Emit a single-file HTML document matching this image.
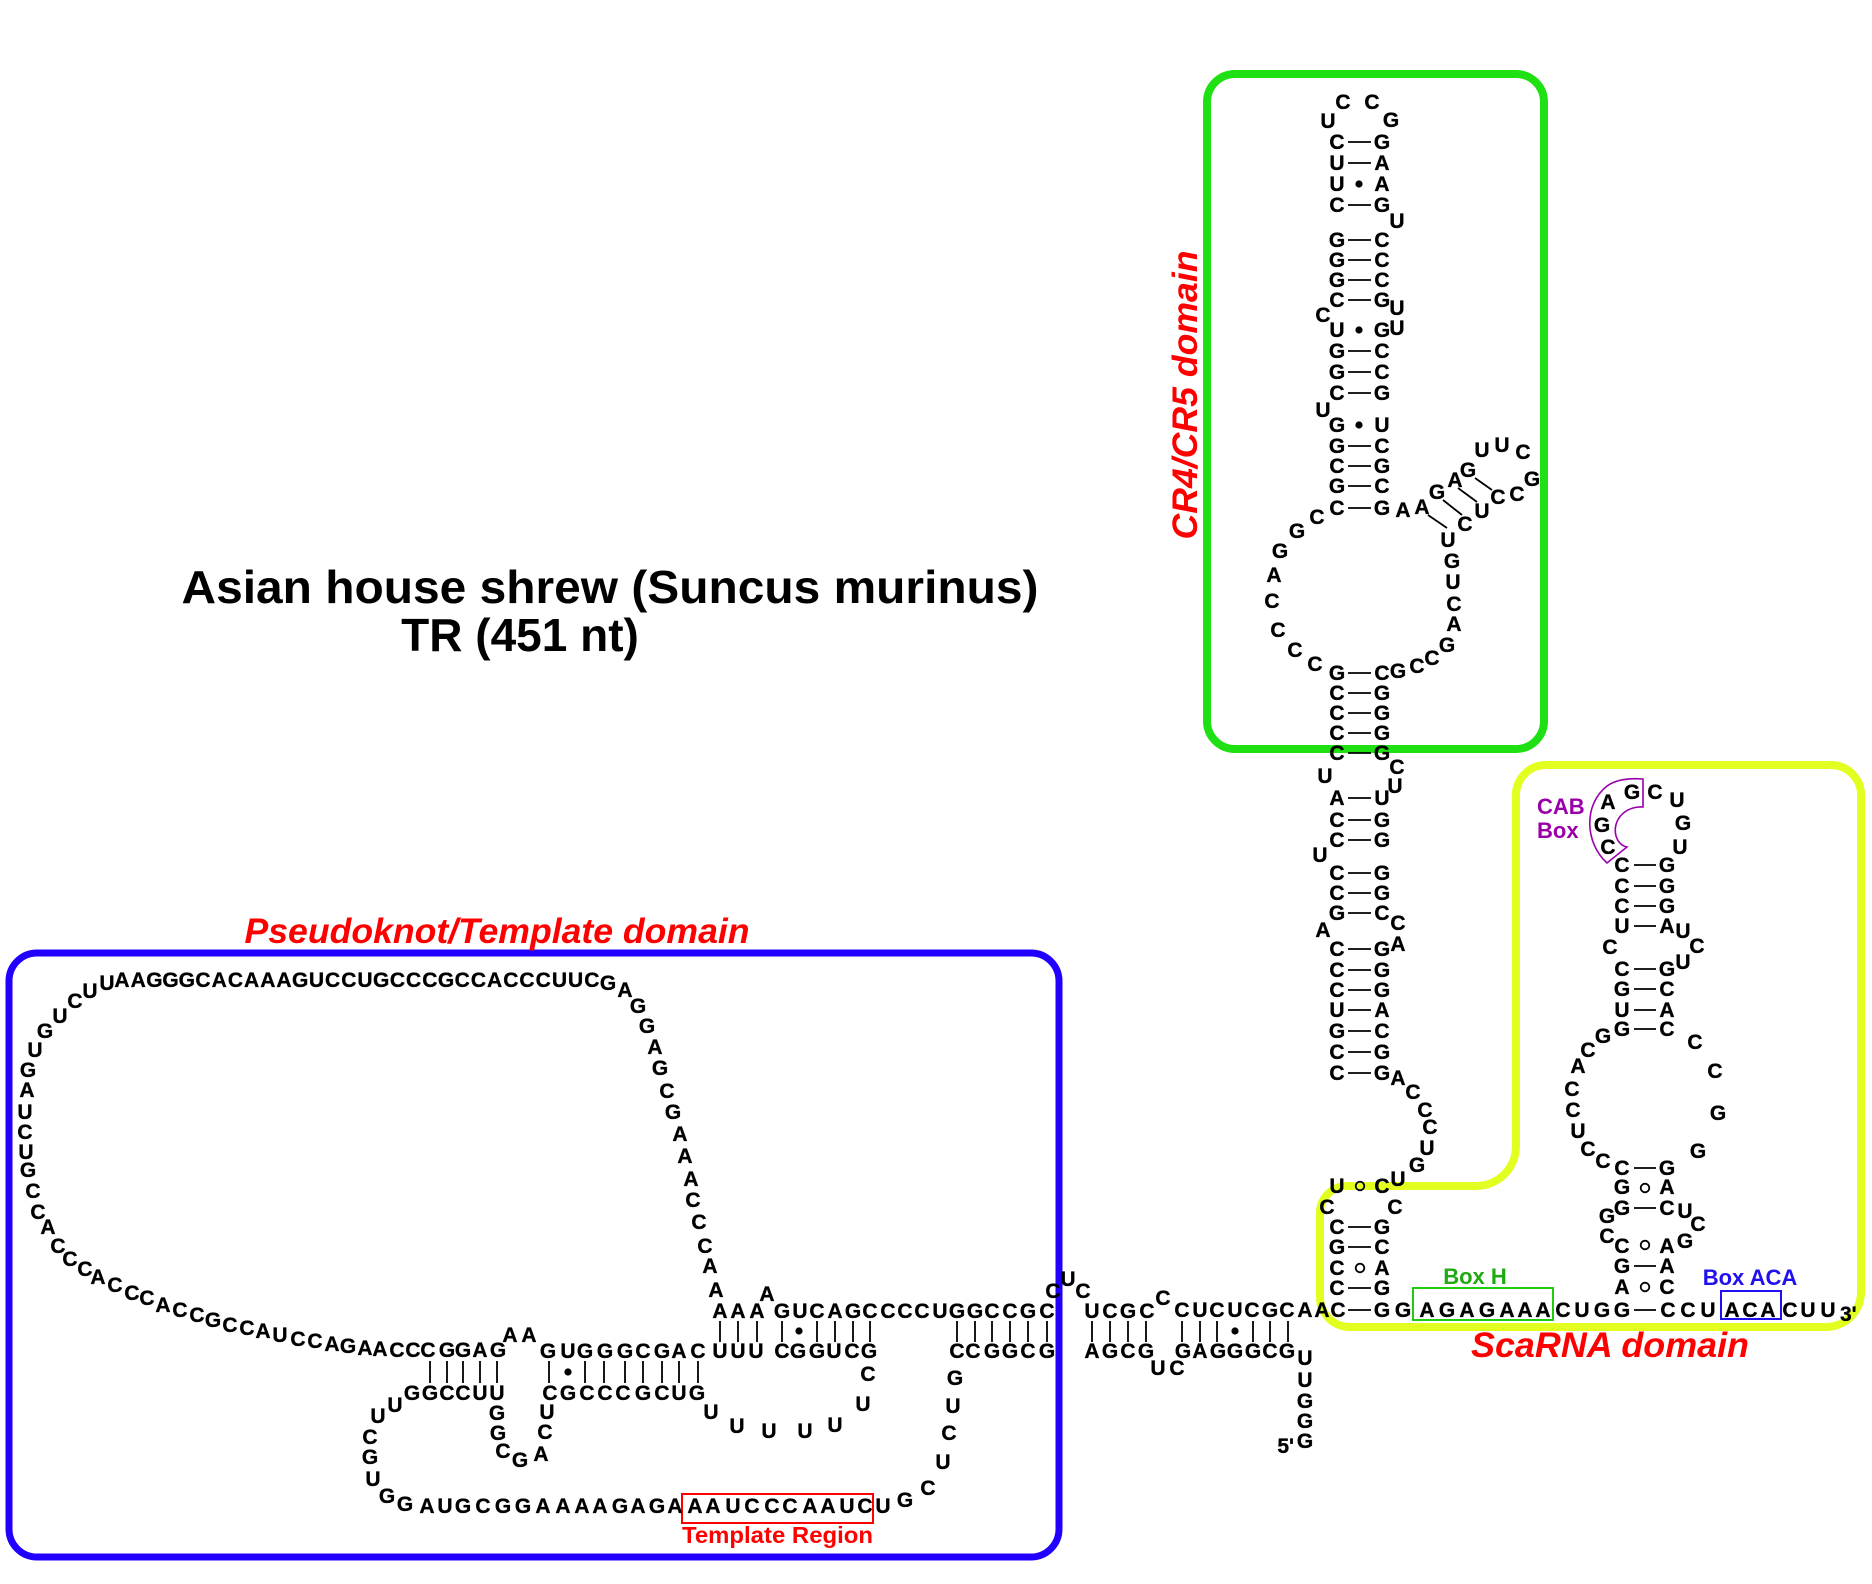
<!DOCTYPE html>
<html><head><meta charset="utf-8"><style>
html,body{margin:0;padding:0;background:#fff}
svg{display:block}
.n{font-family:"Liberation Sans",Arial,sans-serif;font-weight:bold;font-size:21px;text-anchor:middle;fill:#000;stroke:#000;stroke-width:0.35px}
.lab{font-family:"Liberation Sans",Arial,sans-serif;font-weight:bold}
</style></head><body>
<svg width="1872" height="1584" viewBox="0 0 1872 1584" xmlns="http://www.w3.org/2000/svg">
<!-- domain boxes -->
<rect x="1207" y="74" width="337" height="675" rx="28" ry="28" fill="none" stroke="#1fe013" stroke-width="8"/>
<rect x="9" y="953" width="1050" height="604" rx="28" ry="28" fill="none" stroke="#2200ff" stroke-width="7"/>
<path d="M1516,795 A30,30 0 0 1 1546,765 L1831,765 A30,30 0 0 1 1861,795 L1861,1292 A35,35 0 0 1 1826,1327 L1350,1327 A30,30 0 0 1 1320,1297 L1320,1213 A27,27 0 0 1 1347,1186 L1476,1186 A40,40 0 0 0 1516,1146 Z" fill="none" stroke="#e2ff1f" stroke-width="8"/>

<!-- titles -->
<text class="lab" x="610" y="603" text-anchor="middle" font-size="46" textLength="857" lengthAdjust="spacingAndGlyphs">Asian house shrew (Suncus murinus)</text>
<text class="lab" x="520" y="651" text-anchor="middle" font-size="46">TR (451 nt)</text>
<text class="lab" x="497" y="943" text-anchor="middle" font-size="35" font-style="italic" fill="#ff0000" textLength="505" lengthAdjust="spacingAndGlyphs">Pseudoknot/Template domain</text>
<text class="lab" transform="translate(1197,395) rotate(-90)" text-anchor="middle" font-size="35" font-style="italic" fill="#ff0000" textLength="289" lengthAdjust="spacingAndGlyphs">CR4/CR5 domain</text>
<text class="lab" x="1610" y="1357" text-anchor="middle" font-size="35" font-style="italic" fill="#ff0000" textLength="278" lengthAdjust="spacingAndGlyphs">ScaRNA domain</text>

<!-- small labels -->
<text class="lab" x="682" y="1543" font-size="23" fill="#ff0000" textLength="191" lengthAdjust="spacingAndGlyphs">Template Region</text>
<rect x="682" y="1494" width="191" height="29" fill="none" stroke="#ff0000" stroke-width="2"/>
<text class="lab" x="1475" y="1284" text-anchor="middle" font-size="22" fill="#1faa12">Box H</text>
<rect x="1413" y="1288" width="140" height="32" fill="none" stroke="#1fcc12" stroke-width="2"/>
<text class="lab" x="1750" y="1285" text-anchor="middle" font-size="22" fill="#2010f0">Box ACA</text>
<rect x="1721" y="1291" width="60" height="28" fill="none" stroke="#2010f0" stroke-width="2"/>
<text class="lab" x="1537" y="814" font-size="22" fill="#9900aa">CAB</text>
<text class="lab" x="1537" y="838" font-size="22" fill="#9900aa">Box</text>
<path d="M1607,863 C1585,843 1583,805 1607,786 C1617,779 1630,778 1643,779 L1643,807 C1625,806 1612,820 1616,836 C1618,842 1622,846 1627,847 Z" fill="none" stroke="#9900aa" stroke-width="1.6"/>

<!-- base pair lines -->
<g stroke="#000" stroke-width="1.8" fill="none">
<path d="M1348 142H1371M1348 163H1371M1348 205H1371M1348 240H1371M1348 260H1371M1348 280H1371M1348 300H1371M1348 351H1371M1348 372H1371M1348 393H1371M1348 446H1371M1348 466H1371M1348 486H1371M1348 508H1371M1348 673H1371M1348 693H1371M1348 713H1371M1348 733H1371M1348 753H1371M1348 798H1371M1348 820H1371M1348 840H1371M1348 873H1371M1348 893H1371M1348 913H1371M1348 949H1371M1348 970H1371M1348 990H1371M1348 1010H1371M1348 1031H1371M1348 1052H1371M1348 1073H1371M1348 1227H1371M1348 1247H1371M1348 1288H1371M1348 1310H1371"/>
<path d="M1634 865H1656M1634 886H1656M1634 906H1656M1634 926H1656M1634 969H1656M1634 989H1656M1634 1010H1656M1634 1029H1656M1634 1168H1656M1634 1208H1656M1634 1266H1656M1634 1310H1656"/>
<path d="M1428 515L1447 528M1443 500L1462 515M1458 488L1477 502M1475 478L1492 490"/>
<path d="M720 1321V1342M738 1321V1342M757 1321V1342M782 1321V1342M817 1321V1342M835 1321V1342M853 1321V1342M870 1321V1342M957 1321V1342M975 1321V1342M992 1321V1342M1010 1321V1342M1028 1321V1342M1047 1321V1342M1092 1321V1342M1110 1321V1342M1128 1321V1342M1146 1321V1342M1182 1321V1342M1200 1321V1342M1217 1321V1342M1253 1321V1342M1270 1321V1342M1288 1321V1342"/>
<path d="M430 1361V1383M447 1361V1383M463 1361V1383M480 1361V1383M497 1361V1383M549 1361V1383M585 1361V1383M604 1361V1383M625 1361V1383M643 1361V1383M662 1361V1383M679 1361V1383M698 1361V1383"/>
<circle cx="1360" cy="1186" r="4.3"/>
<circle cx="1360" cy="1268" r="4.3"/>
<circle cx="1645" cy="1188" r="4.3"/>
<circle cx="1645" cy="1245" r="4.3"/>
<circle cx="1645" cy="1287" r="4.3"/>
</g>
<g fill="#000">
<circle cx="1359" cy="184" r="3.6"/>
<circle cx="1359" cy="330" r="3.6"/>
<circle cx="1359" cy="425" r="3.6"/>
<circle cx="799" cy="1331" r="3.6"/>
<circle cx="1235" cy="1331" r="3.6"/>
<circle cx="568" cy="1372" r="3.6"/>
</g>

<!-- CR4/CR5 + P1 stem rows -->
<text class="n" x="1337 1382" y="149">CG</text>
<text class="n" x="1337 1382" y="170">UA</text>
<text class="n" x="1337 1382" y="191">UA</text>
<text class="n" x="1337 1382" y="212">CG</text>
<text class="n" x="1337 1382" y="247">GC</text>
<text class="n" x="1337 1382" y="267">GC</text>
<text class="n" x="1337 1382" y="287">GC</text>
<text class="n" x="1337 1382" y="307">CG</text>
<text class="n" x="1337 1382" y="337">UG</text>
<text class="n" x="1337 1382" y="358">GC</text>
<text class="n" x="1337 1382" y="379">GC</text>
<text class="n" x="1337 1382" y="400">CG</text>
<text class="n" x="1337 1382" y="432">GU</text>
<text class="n" x="1337 1382" y="453">GC</text>
<text class="n" x="1337 1382" y="473">CG</text>
<text class="n" x="1337 1382" y="493">GC</text>
<text class="n" x="1337 1382" y="515">CG</text>
<text class="n" x="1337 1382" y="680">GC</text>
<text class="n" x="1337 1382" y="700">CG</text>
<text class="n" x="1337 1382" y="720">CG</text>
<text class="n" x="1337 1382" y="740">CG</text>
<text class="n" x="1337 1382" y="760">CG</text>
<text class="n" x="1337 1382" y="805">AU</text>
<text class="n" x="1337 1382" y="827">CG</text>
<text class="n" x="1337 1382" y="847">CG</text>
<text class="n" x="1337 1382" y="880">CG</text>
<text class="n" x="1337 1382" y="900">CG</text>
<text class="n" x="1337 1382" y="920">GC</text>
<text class="n" x="1337 1382" y="956">CG</text>
<text class="n" x="1337 1382" y="977">CG</text>
<text class="n" x="1337 1382" y="997">CG</text>
<text class="n" x="1337 1382" y="1017">UA</text>
<text class="n" x="1337 1382" y="1038">GC</text>
<text class="n" x="1337 1382" y="1059">CG</text>
<text class="n" x="1337 1382" y="1080">CG</text>
<text class="n" x="1337 1382" y="1193">UC</text>
<text class="n" x="1337 1382" y="1234">CG</text>
<text class="n" x="1337 1382" y="1254">GC</text>
<text class="n" x="1337 1382" y="1275">CA</text>
<text class="n" x="1337 1382" y="1295">CG</text>

<!-- CR4/CR5 singles -->
<text class="n" x="1328 1343 1372 1391 1397 1397 1323 1397 1323" y="128 109 109 127 228 315 322 335 417">UCCGUUCUU</text>
<text class="n" x="1403 1422 1437 1455 1468 1482 1502 1523 1532 1517 1498 1482 1465 1448" y="517 514 499 487 477 457 452 459 486 501 504 518 531 547">AAGAGUUCGCCUCU</text>
<text class="n" x="1452 1453 1454 1454 1447 1432 1417 1398" y="568 589 611 631 652 665 673 678">GUCAGCCG</text>
<text class="n" x="1317 1297 1280 1274 1272 1278 1295 1315" y="524 538 558 582 608 637 657 671">CGGACCCC</text>
<text class="n" x="1397 1395 1325 1320 1398 1323 1398" y="774 793 783 862 930 937 951">CUUUCAA</text>
<text class="n" x="1398 1413 1425 1430 1427 1417 1398 1327 1395" y="1085 1099 1117 1134 1155 1172 1186 1214 1214">ACCCUGUCC</text>

<!-- main horizontal row -->
<text class="n" x="1182 1200 1217 1235 1252 1270 1287 1305 1322 1338 1382 1403 1427 1447 1467 1487 1507 1525 1543 1563 1582 1602 1622 1668 1688 1708 1732 1750 1768 1790 1808 1828" y="1317">CUCUCGCAACGGAGAGAAACUGGCCUACACUU</text>
<text class="n" x="1840" y="1321" style="text-anchor:start">3'</text>

<!-- ScaRNA hairpin -->
<text class="n" x="1622 1667" y="872">CG</text>
<text class="n" x="1622 1667" y="893">CG</text>
<text class="n" x="1622 1667" y="913">CG</text>
<text class="n" x="1622 1667" y="933">UA</text>
<text class="n" x="1622 1667" y="976">CG</text>
<text class="n" x="1622 1667" y="996">GC</text>
<text class="n" x="1622 1667" y="1017">UA</text>
<text class="n" x="1622 1667" y="1036">GC</text>
<text class="n" x="1622 1667" y="1175">CG</text>
<text class="n" x="1622 1667" y="1194">GA</text>
<text class="n" x="1622 1667" y="1215">GC</text>
<text class="n" x="1622 1667" y="1253">CA</text>
<text class="n" x="1622 1667" y="1273">GA</text>
<text class="n" x="1622 1667" y="1294">AC</text>
<text class="n" x="1608 1602 1608 1632 1655 1677 1683 1680 1683 1697 1683 1610" y="854 832 809 799 799 807 830 854 938 953 969 954">CGAGCUGUUCUC</text>
<text class="n" x="1603 1588 1578 1572 1573 1578 1588 1603 1695 1715 1718 1698 1607 1607 1685 1698 1685" y="1043 1057 1073 1096 1117 1138 1156 1168 1049 1078 1120 1158 1243 1223 1218 1231 1248">GCACCUCCCCGGCGUCG</text>

<!-- Pseudoknot / template domain -->
<text class="n" x="107 90 75 60 45 35 28 27 25 25 26 28 33 38 48 58 70 85 98 115 132 147 163 180 197 213 230 247 263 280 298 315 332 348 365 380 397 413 428 447 463 480 498" y="990 998 1008 1023 1038 1057 1077 1097 1119 1139 1159 1177 1198 1219 1234 1253 1266 1276 1284 1292 1300 1305 1312 1317 1322 1327 1332 1335 1338 1342 1346 1348 1351 1353 1355 1356 1357 1357 1357 1357 1357 1357 1357">UUCUGUGAUCUGCCACCCACCCACCGCCAUCCAGAACCCGGAG</text>
<text class="n" x="122 138.2 154.4 170.6 186.8 203 219.2 235.4 251.6 267.8 284 300.2 316.4 332.6 348.8 365 381.2 397.4 413.6 429.8 446 462.2 478.4 494.6 510.8 527 543.2 559.4 575.6 591.8" y="987">AAGGGCACAAAGUCCUGCCCGCCACCCUUC</text>
<text class="n" x="608 625 638 647 655 660 667 673 680 685 691 693 699 705 710 716 767" y="990 997 1013 1033 1054 1075 1098 1119 1141 1163 1186 1207 1229 1253 1273 1297 1301">GAGGAGCGAAACCCAAA</text>
<text class="n" x="720 738 757 782 800 817 835 853 870 888 905 922 940 957 975 992 1010 1028 1047 1092 1110 1128 1147" y="1318">AAAGUCAGCCCCUGGCCGCUCGC</text>
<text class="n" x="1053 1068 1083 1163" y="1298 1286 1298 1305">CUCC</text>
<text class="n" x="548 568 585 605 625 643 662 679 698 720 738 756 782 798 817 834 852 869 957 973 992 1010 1028 1047 1092 1110 1128 1146 1183 1200 1218 1235 1253 1270 1287" y="1358">GUGGGCGACUUUCGGUCGCCGGCGAGCGGAGGGCG</text>
<text class="n" x="510 529" y="1342">AA</text>
<text class="n" x="412 430 447 463 480 497 550 568 587 605 623 643 662 679 697" y="1400">GGCCUUCGCCCGCUG</text>
<text class="n" x="395 378 370 370 373 387 405" y="1412 1423 1444 1464 1486 1503 1511">UUCGUGG</text>
<text class="n" x="427 445 463 483 503 523 543 563 582 600 620 638 657 675 695 713 733 752 772 790 810 828 847 865 883" y="1513">AUGCGGAAAAGAGAAAUCCCAAUCU</text>
<text class="n" x="905 928 943 949 953 955" y="1507 1495 1469 1440 1413 1385">GCUCUG</text>
<text class="n" x="497 498 503 520 541 545 547" y="1420 1440 1458 1467 1461 1439 1419">GGCGACU</text>
<text class="n" x="711 737 769 805 835 863 868" y="1419 1433 1438 1438 1432 1411 1381">UUUUUUC</text>
<text class="n" x="1158 1177" y="1375">UC</text>
<text class="n" x="1305 1305 1305 1305 1305" y="1365 1387 1408 1428 1448">UUGGG</text>
<text class="n" x="1294" y="1453" style="text-anchor:end">5'</text>
</svg>
</body></html>
